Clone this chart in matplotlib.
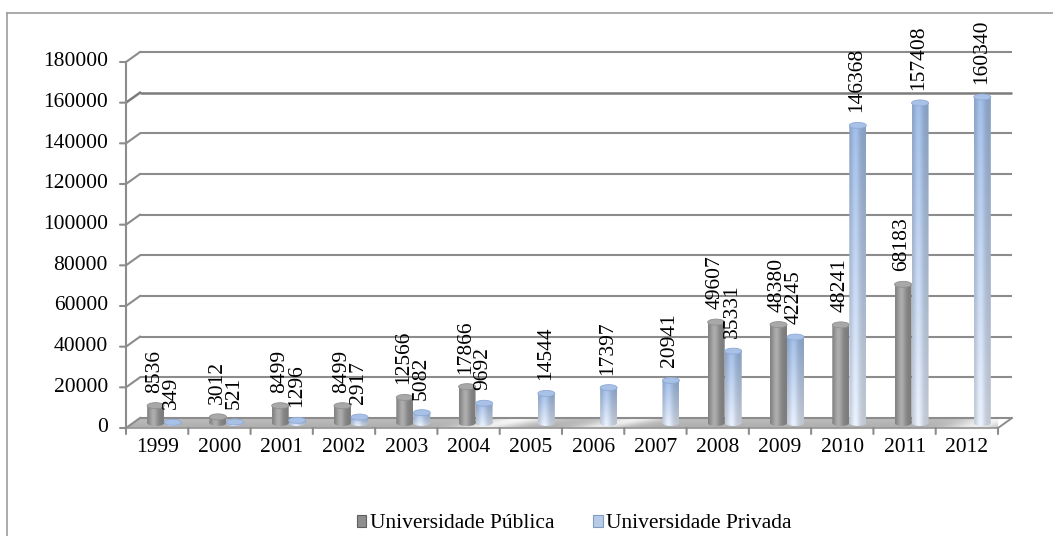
import numpy as np
import matplotlib
matplotlib.use("Agg")
import matplotlib.pyplot as plt
from matplotlib.patches import Rectangle, Ellipse, Polygon, Patch, PathPatch
from matplotlib.path import Path
from matplotlib.lines import Line2D
from matplotlib.transforms import offset_copy

plt.rcParams['font.family'] = ['Liberation Serif', 'DejaVu Serif']

# ---- data -------------------------------------------------------------
years = ['1999', '2000', '2001', '2002', '2003', '2004', '2005',
         '2006', '2007', '2008', '2009', '2010', '2011', '2012']
publica = [8536, 3012, 8499, 8499, 12566, 17866, None, None, None,
           49607, 48380, 48241, 68183, None]
privada = [349, 521, 1296, 2917, 5082, 9692, 14544, 17397, 20941,
           35331, 42245, 146368, 157408, 160340]
y_ticks = [0, 20000, 40000, 60000, 80000, 100000, 120000, 140000,
           160000, 180000]
series_names = ['Universidade Pública', 'Universidade Privada']

# ---- figure / axes ----------------------------------------------------
W, H = 1053, 536
fig = plt.figure(figsize=(W / 100, H / 100), dpi=100)
ax = fig.add_axes([126 / W, (H - 428) / H, 872 / W, 366 / H])
ax.axis('off')
XMIN, XMAX = -0.5, len(years) - 0.5
YMAX = 180000
FS = 15.5

# pseudo-3D depth (pixels)
DX, DY = 14, 10
px_x = 872 / (XMAX - XMIN)       # pixels per category
px_y = 366 / YMAX                 # pixels per unit
dxd, dyd = DX / px_x, DY / px_y   # depth in data units

back = offset_copy(ax.transData, fig=fig, x=DX, y=DY, units='dots')
mid = offset_copy(ax.transData, fig=fig, x=DX / 2, y=DY / 2, units='dots')

grid_col = '#8c8c8c'

# floor
floor = Polygon([(XMIN, 0), (XMAX, 0), (XMAX + dxd, dyd), (XMIN + dxd, dyd)],
                closed=True, facecolor='none', edgecolor='none')
ax.add_patch(floor)
fx = np.linspace(0, 1, 400)
fy = np.linspace(0, 1, 20)
FX, FY = np.meshgrid(fx, fy)
sheen = (0.68 + 0.06 * FY
         + 0.24 * np.exp(-((FX - 0.40 - 0.05 * FY) / 0.035) ** 2)
         + 0.22 * np.exp(-((FX - 0.53 - 0.05 * FY) / 0.03) ** 2)
         + 0.24 * np.exp(-((FX - 0.955 - 0.03 * FY) / 0.03) ** 2))
sheen = np.clip(sheen, 0, 0.97)
floor_img = np.dstack([sheen, sheen, sheen])
im = ax.imshow(floor_img, extent=[XMIN, XMAX + dxd, 0, dyd], origin='lower',
               aspect='auto', interpolation='bilinear', zorder=1)
im.set_clip_path(floor)
ax.plot([XMIN, XMAX], [0, 0], color='#9a9a9a', lw=1.3, zorder=2,
        clip_on=False)
ax.plot([XMAX, XMAX + dxd], [0, dyd], color=grid_col, lw=1.4, zorder=2,
        clip_on=False)

# back-wall gridlines with their depth connectors
for v in y_ticks:
    lw = 1.8 if v == 160000 else 1.5
    col = '#7c7c7c' if v == 160000 else grid_col
    ax.plot([XMIN, XMAX], [v, v], transform=back, color=col, lw=lw,
            zorder=1.5, clip_on=False, solid_capstyle='butt')
    ax.plot([XMIN, XMIN + dxd], [v, v + dyd], color=col, lw=lw,
            zorder=1.5, clip_on=False)

# front value axis and ticks
ax.plot([XMIN, XMIN], [0, YMAX], color=grid_col, lw=1.5, zorder=2,
        clip_on=False)
for v in y_ticks:
    ax.annotate('', xy=(XMIN, v), xycoords='data', xytext=(-6, 0),
                textcoords='offset pixels',
                arrowprops=dict(arrowstyle='-', color=grid_col, lw=1.5,
                                shrinkA=0, shrinkB=0))
    ax.annotate(f'{v}', xy=(XMIN, v), xycoords='data', xytext=(-18, 0),
                textcoords='offset pixels', ha='right', va='center',
                fontsize=FS, color='black')

# category axis ticks and labels
for k in range(len(years) + 1):
    xb = XMIN + k
    ax.annotate('', xy=(xb, 0), xycoords='data', xytext=(0, -6),
                textcoords='offset pixels',
                arrowprops=dict(arrowstyle='-', color=grid_col, lw=1.5,
                                shrinkA=0, shrinkB=0))
for i, y in enumerate(years):
    ax.annotate(y, xy=(i, 0), xycoords='data', xytext=(0, -20),
                textcoords='offset pixels', ha='center', va='center',
                fontsize=FS, color='black')

# ---- cylinders ---------------------------------------------------------
BW = 17 / px_x          # bar width in categories
EH = 6 / px_y           # ellipse cap height in data units
u = np.linspace(0, 1, 40)
hl = np.exp(-((u - 0.38) / 0.26) ** 2)


def cylinder_image(kind, n=80):
    t = np.linspace(0, 1, n)[:, None]
    if kind == 'gray':
        g = 0.49 + 0.19 * hl
        g = np.tile(g[None, :], (n, 1))
        return np.dstack([g, g, g])
    top = np.array([0.63, 0.74, 0.90])
    bot = np.array([0.90, 0.93, 0.98])
    base = bot + (top - bot) * t[..., None]
    shade = (0.84 + 0.18 * hl)[None, :, None]
    return np.clip(base * shade, 0, 1)


def draw_cylinder(xc, value, kind, z):
    x0 = xc - BW / 2
    rect = Rectangle((x0, 0), BW, value)
    e_bot = Ellipse((xc, 0), BW, EH)
    paths = [p.get_path().transformed(p.get_patch_transform())
             for p in (rect, e_bot)]
    clip = PathPatch(Path.make_compound_path(*paths), transform=mid,
                     facecolor='none', edgecolor='none')
    ax.add_patch(clip)
    img = ax.imshow(cylinder_image(kind), extent=[x0, x0 + BW, -EH / 2, value],
                    origin='lower', aspect='auto', interpolation='bilinear',
                    transform=mid, zorder=z)
    img.set_clip_path(clip)
    cap_col = '#a8a8a8' if kind == 'gray' else '#a9c1e6'
    cap_edge = '#909090' if kind == 'gray' else '#8eaad6'
    ax.add_patch(Ellipse((xc, value), BW, EH, transform=mid,
                         facecolor=cap_col, edgecolor=cap_edge, lw=0.6,
                         zorder=z + 0.01, clip_on=False))


OFF = BW / 2
for i in range(len(years)):
    z = 3 + i * 0.1
    if publica[i] is not None:
        xc = i - OFF
        draw_cylinder(xc, publica[i], 'gray', z)
        ax.annotate(f'{publica[i]}', xy=(xc, publica[i]), xycoords=mid,
                    xytext=(-1, 13), textcoords='offset pixels',
                    rotation=90, ha='center', va='bottom', fontsize=FS,
                    zorder=10)
    if privada[i] is not None:
        xc = i + OFF
        draw_cylinder(xc, privada[i], 'blue', z + 0.05)
        ax.annotate(f'{privada[i]}', xy=(xc, privada[i]), xycoords=mid,
                    xytext=(-1, 13), textcoords='offset pixels',
                    rotation=90, ha='center', va='bottom', fontsize=FS,
                    zorder=10)

ax.set_xlim(XMIN, XMAX)
ax.set_ylim(0, YMAX)

# ---- legend -----------------------------------------------------------
handles = [Patch(facecolor='#8e8e8e', edgecolor='#5e5e5e', lw=0.8),
           Patch(facecolor='#b7cbe6', edgecolor='#7f9cc4', lw=0.8)]
fig.legend(handles=handles, labels=series_names, loc='center',
           bbox_to_anchor=(574 / W, 12 / H), ncol=2, frameon=False,
           fontsize=FS, handlelength=0.45, handleheight=0.45,
           handletextpad=0.15, columnspacing=1.8)

# chart-area border
border = '#9c9c9c'
fig.add_artist(Line2D([7 / W, 7 / W], [0, (H - 13) / H], color=border,
                      lw=1.2))
fig.add_artist(Line2D([7 / W, 1.0], [(H - 13) / H, (H - 13) / H],
                      color=border, lw=1.2))

fig.savefig('out.png', dpi=100)
